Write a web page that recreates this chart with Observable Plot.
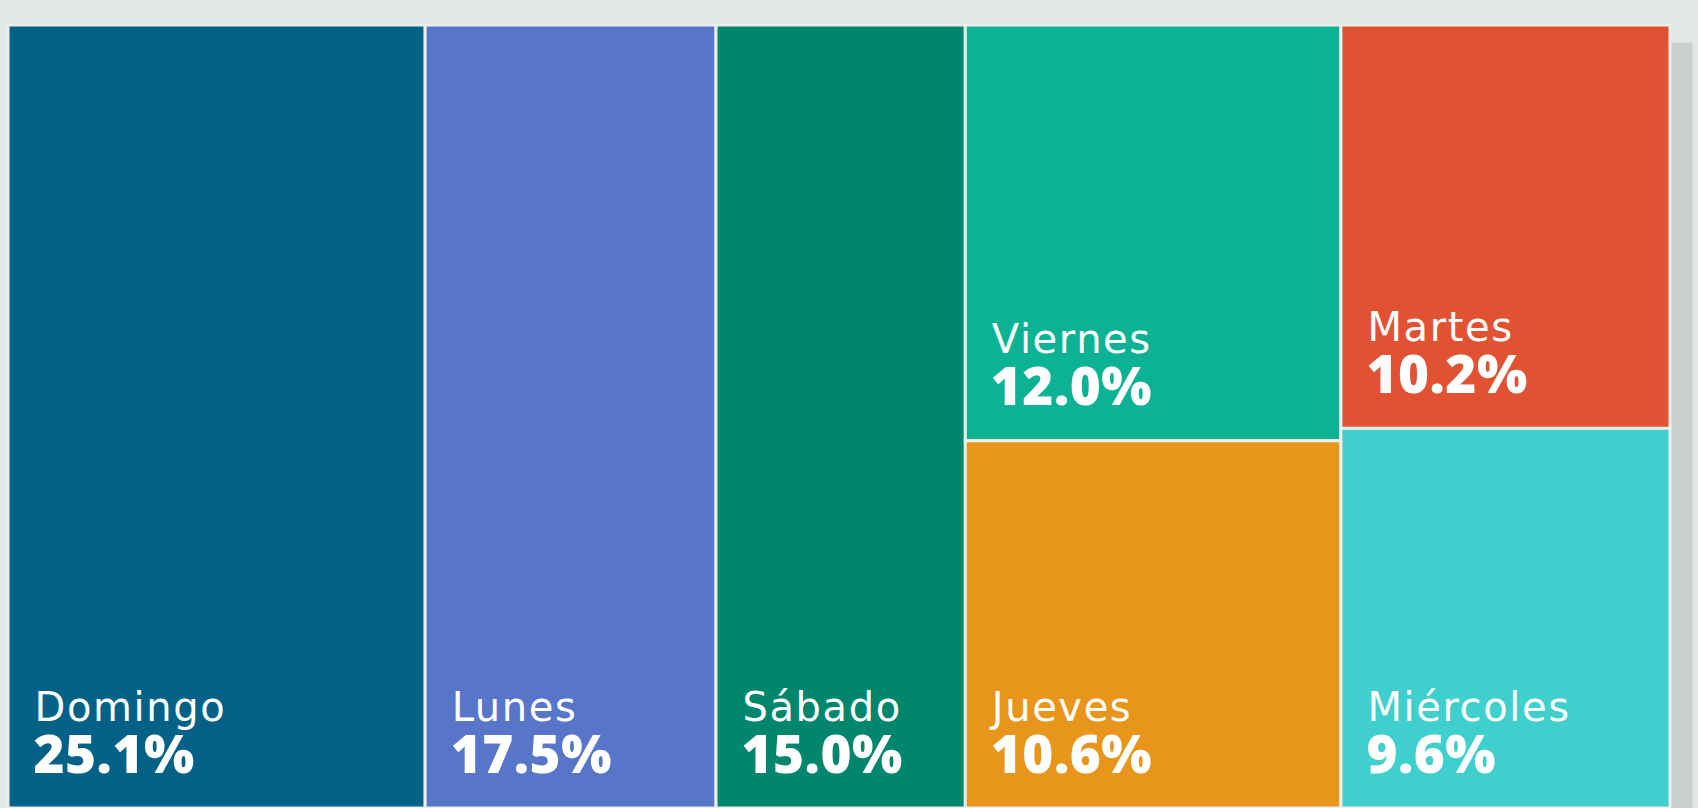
<!DOCTYPE html>
<html>
<head>
<meta charset="utf-8">
<script src="https://cdn.jsdelivr.net/npm/d3@7"></script>
<script src="https://cdn.jsdelivr.net/npm/@observablehq/plot@0.6"></script>
<style>
  html, body { margin: 0; padding: 0; background: #e3e8e4; overflow: hidden; }
  #chart svg { display: block; }
  #chart g[font-size="40"] { letter-spacing: 1.6px; font-family: 'DejaVu Sans', sans-serif; }
  #chart g[font-size="53"] { letter-spacing: 0.5px; }
</style>
</head>
<body>
<div id="chart"></div>
<script>
// Datos: porcentaje por día de la semana
const dias = ["Domingo", "Lunes", "Sábado", "Viernes", "Jueves", "Martes", "Miércoles"];
const porcentajes = [25.1, 17.5, 15.0, 12.0, 10.6, 10.2, 9.6];
const colores = ["#016186", "#5776c9", "#00866c", "#0bb394", "#e8961b", "#e05232", "#3fcfcc"];
// Columnas del treemap (agrupación de celdas)
const columnas = ["c1", "c2", "c3", "c4", "c4", "c5", "c5"];

const datos = dias.map((d, i) => ({dia: d, valor: porcentajes[i], color: colores[i], columna: columnas[i]}));

const raiz = d3.hierarchy(d3.group(datos, d => d.columna)).sum(d => d.valor);
d3.treemap().tile(d3.treemapSliceDice).size([100, 100]).round(false)(raiz);
const celdas = raiz.leaves().map(l => ({...l.data, x0: l.x0, x1: l.x1, y0: l.y0, y1: l.y1}));

const font = "'Open Sans', sans-serif";

const chart = Plot.plot({
  width: 1698,
  height: 808,
  marginLeft: 8,
  marginRight: 28,
  marginTop: 25,
  marginBottom: 0,
  x: {domain: [0, 100], axis: null},
  y: {domain: [0, 100], reverse: true, axis: null},
  color: {type: "identity"},
  style: {background: "transparent", fontFamily: font},
  marks: [
    Plot.frame({fill: "#cbd0cc", stroke: "none", dx: 22, dy: 17}),
    Plot.rect(celdas, {x1: "x0", x2: "x1", y1: "y0", y2: "y1", fill: "color", stroke: "#ebeeeb", strokeWidth: 3}),
    Plot.text(celdas, {x: "x0", y: "y1", text: "dia", dx: 26, dy: -88, textAnchor: "start", lineAnchor: "bottom",
      fill: "white", fontSize: 40, fontWeight: 400}),
    Plot.text(celdas, {x: "x0", y: "y1", text: d => d.valor.toFixed(1) + "%", dx: 25, dy: -36, textAnchor: "start", lineAnchor: "bottom",
      fill: "white", fontSize: 53, fontWeight: 800})
  ]
});
document.getElementById("chart").append(chart);
</script>
</body>
</html>
